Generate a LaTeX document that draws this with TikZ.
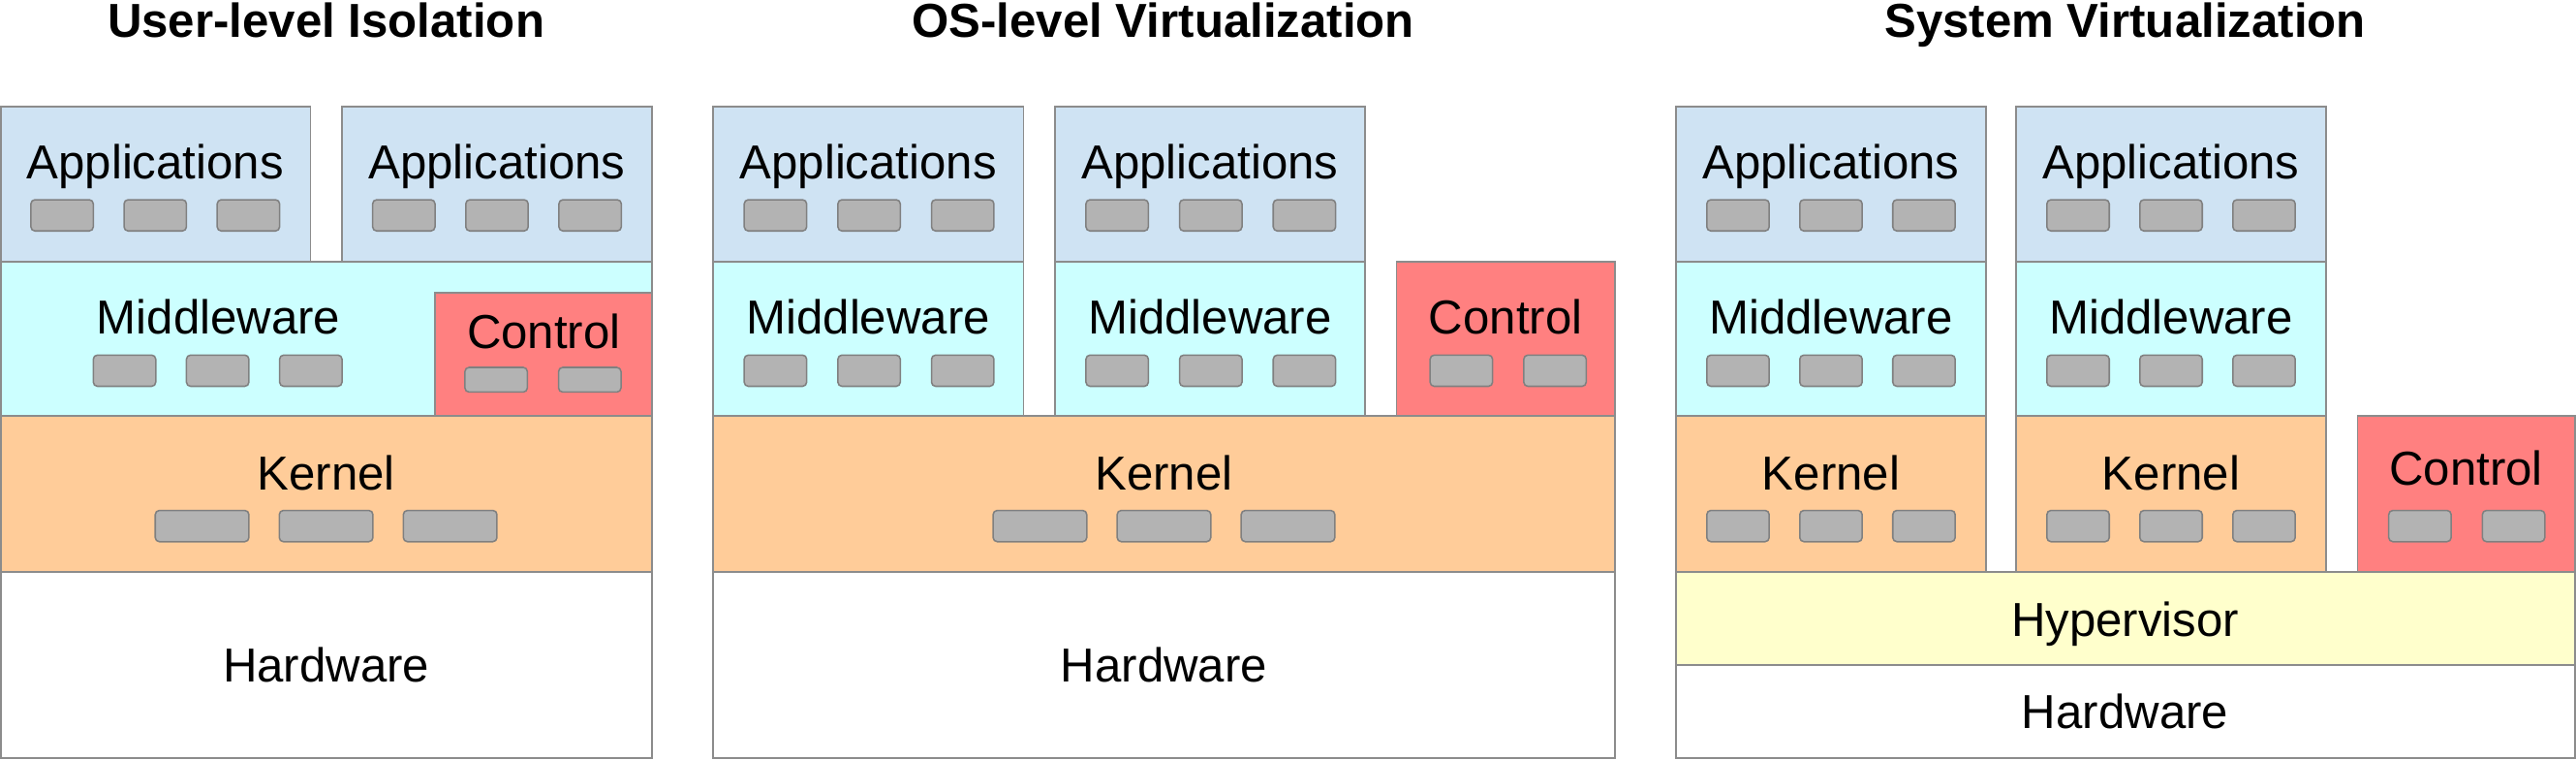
\documentclass[tikz,border=0pt]{standalone}
\usepackage{fontspec}
\setmainfont{Liberation Sans}
\definecolor{appc}{HTML}{CFE3F3}
\definecolor{midc}{HTML}{CCFFFF}
\definecolor{ctlc}{HTML}{FF8080}
\definecolor{kerc}{HTML}{FFCC99}
\definecolor{hypc}{HTML}{FFFFCC}
\definecolor{chipc}{HTML}{B3B3B3}
\definecolor{chipb}{HTML}{808080}
\definecolor{bordc}{HTML}{8C8C8C}
\newcommand\lay[6]{\node[layer, fill=#6, minimum width={#4pt-#2pt}, minimum height={#5pt-#3pt}] (#1) at (#2,#3) {};}
\newcommand\chipsthree[5]{%
  \node[#5] (#1-1) at ({#2-#4},#3) {};
  \node[#5] (#1-2) at (#2,#3) {};
  \node[#5] (#1-3) at ({#2+#4},#3) {};}
\newcommand\chipstwo[5]{%
  \node[#5] (#1-1) at ({#2-#4},#3) {};
  \node[#5] (#1-2) at ({#2+#4},#3) {};}
\begin{document}
\begin{tikzpicture}[x=1pt,y=-1pt,
  layer/.style={draw=bordc, line width=1.1pt, rectangle, inner sep=0pt, outer sep=0pt, anchor=north west},
  chip/.style={draw=chipb, fill=chipc, rounded corners=2.5pt, line width=0.9pt, minimum width=38pt, minimum height=19pt, inner sep=0pt, rectangle},
  wchip/.style={chip, minimum width=57pt},
  schip/.style={chip, minimum height=15pt},
  lbl/.style={anchor=base, inner sep=0pt, font=\fontsize{29}{34}\selectfont},
  ttl/.style={anchor=base, inner sep=0pt, font=\fontsize{29}{34}\selectfont\bfseries}]
\useasboundingbox (0,0) rectangle (1568,462.3);
% ---------- titles
\node[ttl] (title1) at (198.5,23) {User-level Isolation};
\node[ttl] (title2) at (708,23) {OS-level Virtualization};
\node[ttl] (title3) at (1293.5,23) {System Virtualization};
% ---------- panel 1
\lay{a11}{0.7}{65}{189}{159}{appc}
\lay{a12}{208}{65}{397}{159}{appc}
\lay{m1}{0.7}{159}{397}{253}{midc}
\lay{c1}{265}{178}{397}{253}{ctlc}
\lay{k1}{0.7}{253}{397}{348}{kerc}
\lay{h1}{0.7}{348}{397}{461.3}{white}
\node[lbl] (ta11) at (94.5,109) {Applications};
\node[lbl] (ta12) at (302.5,109) {Applications};
\node[lbl] (tm1) at (133,203) {Middleware};
\node[lbl] (tc1) at (331,212) {Control};
\node[lbl] (tk1) at (198.5,298) {Kernel};
\node[lbl] (th1) at (198.5,415) {Hardware};
\chipsthree{ca11}{94.5}{131}{56.7}{chip}
\chipsthree{ca12}{302.5}{131}{56.7}{chip}
\chipsthree{cm1}{132.5}{225.5}{56.7}{chip}
\chipstwo{cc1}{330.5}{231}{28.5}{schip}
\chipsthree{ck1}{198.5}{320}{75.5}{wchip}
% ---------- panel 2
\lay{a21}{434}{65}{623}{159}{appc}
\lay{a22}{642}{65}{831}{159}{appc}
\lay{m21}{434}{159}{623}{253}{midc}
\lay{m22}{642}{159}{831}{253}{midc}
\lay{c2}{850}{159}{983}{253}{ctlc}
\lay{k2}{434}{253}{983}{348}{kerc}
\lay{h2}{434}{348}{983}{461.3}{white}
\node[lbl] (ta21) at (528.5,109) {Applications};
\node[lbl] (ta22) at (736.5,109) {Applications};
\node[lbl] (tm21) at (528.5,203) {Middleware};
\node[lbl] (tm22) at (736.5,203) {Middleware};
\node[lbl] (tc2) at (916.5,203) {Control};
\node[lbl] (tk2) at (708.5,298) {Kernel};
\node[lbl] (th2) at (708.5,415) {Hardware};
\chipsthree{ca21}{529}{131}{57}{chip}
\chipsthree{ca22}{737}{131}{57}{chip}
\chipsthree{cm21}{529}{225.5}{57}{chip}
\chipsthree{cm22}{737}{225.5}{57}{chip}
\chipstwo{cc2}{918}{225.5}{28.5}{chip}
\chipsthree{ck2}{708.5}{320}{75.5}{wchip}
% ---------- panel 3
\lay{a31}{1020}{65}{1209}{159}{appc}
\lay{a32}{1227}{65}{1416}{159}{appc}
\lay{m31}{1020}{159}{1209}{253}{midc}
\lay{m32}{1227}{159}{1416}{253}{midc}
\lay{k31}{1020}{253}{1209}{348}{kerc}
\lay{k32}{1227}{253}{1416}{348}{kerc}
\lay{c3}{1435}{253}{1567.2}{348}{ctlc}
\lay{y3}{1020}{348}{1567.2}{404.5}{hypc}
\lay{h3}{1020}{404.5}{1567.2}{461.3}{white}
\node[lbl] (ta31) at (1114.5,109) {Applications};
\node[lbl] (ta32) at (1321.5,109) {Applications};
\node[lbl] (tm31) at (1114.5,203) {Middleware};
\node[lbl] (tm32) at (1321.5,203) {Middleware};
\node[lbl] (tk31) at (1114.5,298) {Kernel};
\node[lbl] (tk32) at (1321.5,298) {Kernel};
\node[lbl] (tc3) at (1501,295) {Control};
\node[lbl] (ty3) at (1293.5,387) {Hypervisor};
\node[lbl] (th3) at (1293.5,443) {Hardware};
\chipsthree{ca31}{1114.5}{131}{56.6}{chip}
\chipsthree{ca32}{1321.5}{131}{56.6}{chip}
\chipsthree{cm31}{1114.5}{225.5}{56.6}{chip}
\chipsthree{cm32}{1321.5}{225.5}{56.6}{chip}
\chipsthree{ck31}{1114.5}{320}{56.6}{chip}
\chipsthree{ck32}{1321.5}{320}{56.6}{chip}
\chipstwo{cc3}{1501.5}{320}{28.5}{chip}
\end{tikzpicture}
\end{document}
